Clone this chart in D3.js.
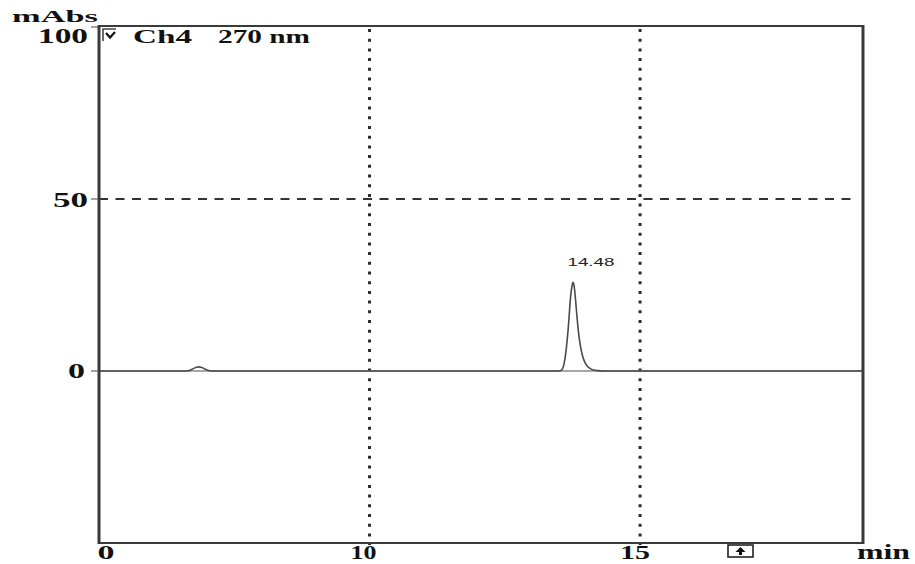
<!DOCTYPE html>
<html><head><meta charset="utf-8">
<script src="https://cdn.jsdelivr.net/npm/d3@7"></script>
<style>html,body{margin:0;padding:0;background:#fff;}svg{display:block;}</style>
</head><body>
<svg id="chart" width="915" height="564"></svg>
<script>
// ---- data ----
const timeMin = [5.0, 6.62, 6.72, 6.80, 6.85, 6.90, 6.98, 7.08, 13.50, 13.55, 13.60, 13.64, 13.68, 13.71, 13.74, 13.76, 13.78, 13.80, 13.83, 13.86, 13.90, 13.94, 13.98, 14.03, 14.08, 14.14, 14.22, 14.30, 19.12];
const mAbs    = [0.0, 0.0, 0.5, 1.1, 1.2, 1.0, 0.4, 0.0, 0.0, 0.3, 2.5, 7.0, 14.0, 20.5, 24.5, 25.8, 24.8, 22.0, 16.5, 11.5, 7.0, 4.2, 2.5, 1.3, 0.7, 0.3, 0.1, 0.0, 0.0];
const xTickValues = [5, 10, 15];
const xTickLabels = ["0", "10", "15"];
const yTickValues = [0, 50, 100];
const yTickLabels = ["0", "50", "100"];
const xDomain = [5, 19.12];
const yDomain = [-50, 100];
const peakLabel = {t: 13.76, v: 25.8, text: "14.48"};
const channelLabel = ["Ch4", "270 nm"];
const yTitle = "mAbs";
const xTitle = "min";

// ---- layout ----
const L = 99, R = 863, T = 27, B = 543;
const svg = d3.select("#chart");
const x = d3.scaleLinear().domain(xDomain).range([L, R]);
const y = d3.scaleLinear().domain(yDomain).range([B, T]);
const serif = "'Liberation Serif','Times New Roman',serif";

// grid: vertical dotted lines at 10 and 15
svg.append("g").selectAll("line").data(xTickValues.filter(d => d > xDomain[0]))
  .join("line")
  .attr("x1", d => x(d)).attr("x2", d => x(d))
  .attr("y1", T + 2).attr("y2", B + 2)
  .attr("stroke", "#2a2a2a").attr("stroke-width", 3).attr("stroke-dasharray", "3,6.7");

// horizontal dashed at 50
svg.append("line")
  .attr("x1", L).attr("x2", R - 8).attr("y1", y(50)).attr("y2", y(50))
  .attr("stroke", "#333").attr("stroke-width", 1.8).attr("stroke-dasharray", "9,7.5");

// y ticks (small dashes left of axis)
svg.append("g").selectAll("line").data(yTickValues)
  .join("line")
  .attr("x1", L - 8).attr("x2", L).attr("y1", d => y(d)).attr("y2", d => y(d))
  .attr("stroke", "#666").attr("stroke-width", 1.2);

// baseline (zero)
svg.append("line")
  .attr("x1", L).attr("x2", R).attr("y1", y(0)).attr("y2", y(0))
  .attr("stroke", "#8a8a8a").attr("stroke-width", 1.6);

// signal trace
const data = timeMin.map((t, i) => ({t, v: mAbs[i]}));
svg.append("path").datum(data)
  .attr("fill", "none").attr("stroke", "#4a4a4a").attr("stroke-width", 1.6)
  .attr("d", d3.line().x(d => x(d.t)).y(d => y(d.v)).curve(d3.curveMonotoneX));

// frame
svg.append("rect").attr("x", L).attr("y", T - 1).attr("width", R - L).attr("height", B - T + 1)
  .attr("fill", "none").attr("stroke", "#3a3a3a").attr("stroke-width", 2);
svg.append("line").attr("x1", L).attr("x2", L).attr("y1", T - 2).attr("y2", B + 1)
  .attr("stroke", "#3a3a3a").attr("stroke-width", 3);
svg.append("line").attr("x1", R).attr("x2", R).attr("y1", T - 2).attr("y2", B + 1)
  .attr("stroke", "#3a3a3a").attr("stroke-width", 3);

// y tick labels
const yLabelPos = {0: {x1: 68, x2: 85, b: 378}, 50: {x1: 53, x2: 88, b: 207}, 100: {x1: 38, x2: 88, b: 43}};
svg.append("g").selectAll("text").data(yTickValues)
  .join("text")
  .attr("x", d => yLabelPos[d].x1)
  .attr("y", d => y(d) + (yLabelPos[d].b - y(d)))
  .attr("textLength", d => yLabelPos[d].x2 - yLabelPos[d].x1)
  .attr("lengthAdjust", "spacingAndGlyphs")
  .attr("font-family", serif).attr("font-weight", "bold").attr("font-size", 20).attr("fill", "#111")
  .text((d, i) => yTickLabels[i]);

// x tick labels
const xLabelW = [17, 26, 30];
svg.append("g").selectAll("text").data(xTickValues)
  .join("text")
  .attr("x", (d, i) => x(d) + [7, -6, -5][i])
  .attr("y", 559)
  .attr("text-anchor", "middle")
  .attr("textLength", (d, i) => xLabelW[i])
  .attr("lengthAdjust", "spacingAndGlyphs")
  .attr("font-family", serif).attr("font-weight", "bold").attr("font-size", 18).attr("fill", "#111")
  .text((d, i) => xTickLabels[i]);

// axis titles
svg.append("text").attr("x", 12).attr("y", 22).attr("textLength", 86).attr("lengthAdjust", "spacingAndGlyphs")
  .attr("font-family", serif).attr("font-weight", "bold").attr("font-size", 17).attr("fill", "#111").text(yTitle);
svg.append("text").attr("x", 857).attr("y", 559).attr("textLength", 53).attr("lengthAdjust", "spacingAndGlyphs")
  .attr("font-family", serif).attr("font-weight", "bold").attr("font-size", 20).attr("fill", "#111").text(xTitle);

// channel label with checkbox
svg.append("path").attr("d", "M103,41 L103,29 L116,29").attr("fill", "none")
  .attr("stroke", "#444").attr("stroke-width", 1.6);
svg.append("path").attr("d", "M106,33 L110,37.5 L115,32").attr("fill", "none")
  .attr("stroke", "#111").attr("stroke-width", 2.2);
svg.append("text").attr("x", 133).attr("y", 43).attr("textLength", 59).attr("lengthAdjust", "spacingAndGlyphs")
  .attr("font-family", serif).attr("font-weight", "bold").attr("font-size", 18).attr("fill", "#111").text(channelLabel[0]);
svg.append("text").attr("x", 218).attr("y", 43).attr("textLength", 92).attr("lengthAdjust", "spacingAndGlyphs")
  .attr("font-family", serif).attr("font-weight", "bold").attr("font-size", 18).attr("fill", "#111").text(channelLabel[1]);

// peak label
svg.append("text").attr("x", x(peakLabel.t) + 18).attr("y", y(peakLabel.v) - 16)
  .attr("text-anchor", "middle").attr("textLength", 47).attr("lengthAdjust", "spacingAndGlyphs")
  .attr("font-family", "'Liberation Sans',Arial,sans-serif").attr("font-size", 11).attr("fill", "#222")
  .text(peakLabel.text);

// arrow box marker
svg.append("rect").attr("x", 728).attr("y", 545).attr("width", 25).attr("height", 12)
  .attr("fill", "#fff").attr("stroke", "#222").attr("stroke-width", 1.6);
svg.append("path").attr("d", "M740.5,547 L745.5,552 L742,552 L742,555 L739,555 L739,552 L735.5,552 Z")
  .attr("fill", "#111");
</script>
</body></html>
